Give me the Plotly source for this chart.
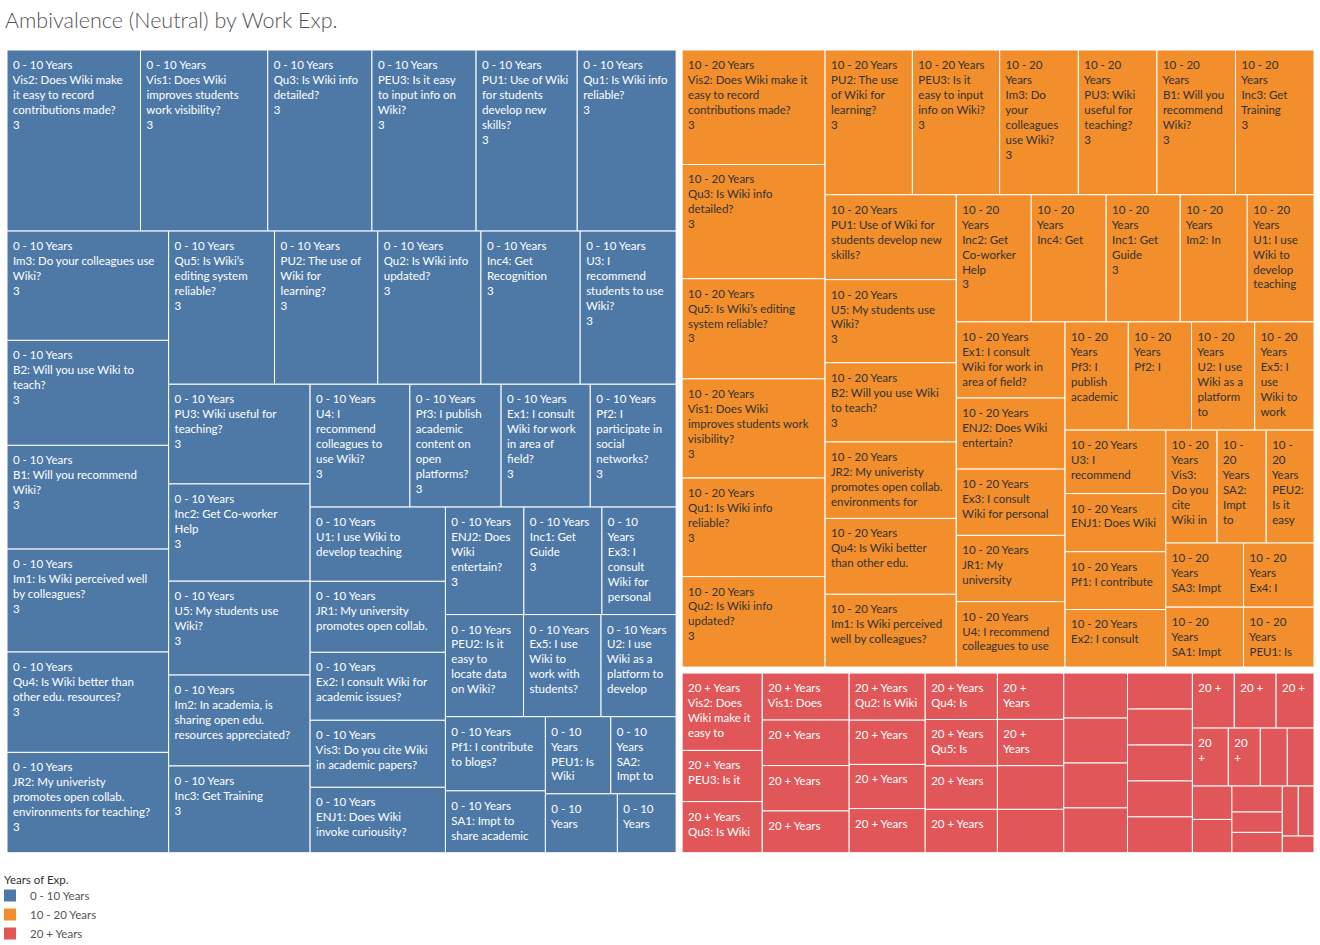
import plotly.graph_objects as go

TITLE = "Ambivalence (Neutral) by Work Exp."
LEGEND_TITLE = "Years of Exp."
groups = ["0 - 10 Years", "10 - 20 Years", "20 + Years"]
group_colors = ["#4E79A7", "#F28E2B", "#E15759"]
label_colors = ["#FFFFFF", "#333333", "#FFFFFF"]
FONT = "Lato"

question_codes = ["Vis1", "Vis2", "Vis3", "Qu1", "Qu2", "Qu3", "Qu4", "Qu5", "PEU1", "PEU2", "PEU3",
                  "PU1", "PU2", "PU3", "Im1", "Im2", "Im3", "B1", "B2", "Inc1", "Inc2", "Inc3", "Inc4",
                  "U1", "U2", "U3", "U4", "U5", "Pf1", "Pf2", "Pf3", "Ex1", "Ex2", "Ex3", "Ex4", "Ex5",
                  "ENJ1", "ENJ2", "JR1", "JR2", "SA1", "SA2", "SA3"]
question_texts = ["Does Wiki improves students work visibility?",
                  "Does Wiki make it easy to record contributions made?",
                  "Do you cite Wiki in academic papers?",
                  "Is Wiki info reliable?", "Is Wiki info updated?", "Is Wiki info detailed?",
                  "Is Wiki better than other edu. resources?", "Is Wiki’s editing system reliable?",
                  "Is Wiki user-friendly?", "Is it easy to locate data on Wiki?",
                  "Is it easy to input info on Wiki?",
                  "Use of Wiki for students develop new skills?", "The use of Wiki for learning?",
                  "Wiki useful for teaching?", "Is Wiki perceived well by colleagues?",
                  "In academia, is sharing open edu. resources appreciated?",
                  "Do your colleagues use Wiki?", "Will you recommend Wiki?", "Will you use Wiki to teach?",
                  "Get Guide", "Get Co-worker Help", "Get Training", "Get Recognition",
                  "I use Wiki to develop teaching activities?",
                  "I use Wiki as a platform to develop activities?",
                  "I recommend students to use Wiki?", "I recommend colleagues to use Wiki?",
                  "My students use Wiki?", "I contribute to blogs?", "I participate in social networks?",
                  "I publish academic content on open platforms?",
                  "I consult Wiki for work in area of field?", "I consult Wiki for academic issues?",
                  "I consult Wiki for personal issues?", "I consult Wiki for other issues?",
                  "I use Wiki to work with students?", "Does Wiki invoke curiousity?",
                  "Does Wiki entertain?", "My university promotes open collab. environments for research?",
                  "My univeristy promotes open collab. environments for teaching?",
                  "Impt to share academic content?", "Impt to publish in open access?",
                  "Impt to share teaching materials?"]

# ---- 0 - 10 Years ----
exp0_codes = ["Vis2", "Vis1", "Qu3", "PEU3", "PU1", "Qu1", "Im3", "B2", "B1", "Im1", "Qu4", "JR2",
              "Qu5", "PU2", "Qu2", "Inc4", "U3", "PU3", "Inc2", "U5", "Im2", "Inc3", "U4", "Pf3",
              "Ex1", "Pf2", "U1", "JR1", "Ex2", "Vis3", "ENJ1", "ENJ2", "Inc1", "Ex3", "PEU2", "Ex5",
              "U2", "Pf1", "SA1", "PEU1", "SA2", "SA3", "Ex4"]
exp0_size = [24130, 22990, 18830, 18820, 18280, 17870, 17630, 16940, 16730, 16610, 16190, 16185,
             16180, 15780, 15770, 15170, 14660, 14070, 13720, 13250, 12830, 12240, 12230, 11180,
             10930, 10520, 10030, 9590, 9180, 9050, 8830, 8420, 8370, 7960, 7955, 7900,
             7650, 7400, 6170, 5035, 5030, 4230, 3450]
exp0_neutral = [3, 3, 3, 3, 3, 3, 3, 3, 3, 3, 3, 3, 3, 3, 3, 3, 3, 3, 3, 3, 3, 3,
                3, 3, 3, 3, 3, 3, 3, 3, 3, 3, 3, 3, 3, 3, 3, 3, 3, 3, 3, 3, 3]
exp0_show_count = [1, 1, 1, 1, 1, 1, 1, 1, 1, 1, 1, 1, 1, 1, 1, 1, 1, 1, 1, 1, 0, 1,
                   1, 1, 1, 1, 0, 0, 0, 0, 0, 1, 1, 0, 0, 0, 0, 0, 0, 0, 0, 0, 0]
exp0_label = [
    "0 - 10 Years|Vis2: Does Wiki make|it easy to record|contributions made?",
    "0 - 10 Years|Vis1: Does Wiki|improves students|work visibility?",
    "0 - 10 Years|Qu3: Is Wiki info|detailed?",
    "0 - 10 Years|PEU3: Is it easy|to input info on|Wiki?",
    "0 - 10 Years|PU1: Use of Wiki|for students|develop new|skills?",
    "0 - 10 Years|Qu1: Is Wiki info|reliable?",
    "0 - 10 Years|Im3: Do your colleagues use|Wiki?",
    "0 - 10 Years|B2: Will you use Wiki to|teach?",
    "0 - 10 Years|B1: Will you recommend|Wiki?",
    "0 - 10 Years|Im1: Is Wiki perceived well|by colleagues?",
    "0 - 10 Years|Qu4: Is Wiki better than|other edu. resources?",
    "0 - 10 Years|JR2: My univeristy|promotes open collab.|environments for teaching?",
    "0 - 10 Years|Qu5: Is Wiki’s|editing system|reliable?",
    "0 - 10 Years|PU2: The use of|Wiki for|learning?",
    "0 - 10 Years|Qu2: Is Wiki info|updated?",
    "0 - 10 Years|Inc4: Get|Recognition",
    "0 - 10 Years|U3: I|recommend|students to use|Wiki?",
    "0 - 10 Years|PU3: Wiki useful for|teaching?",
    "0 - 10 Years|Inc2: Get Co-worker|Help",
    "0 - 10 Years|U5: My students use|Wiki?",
    "0 - 10 Years|Im2: In academia, is|sharing open edu.|resources appreciated?",
    "0 - 10 Years|Inc3: Get Training",
    "0 - 10 Years|U4: I|recommend|colleagues to|use Wiki?",
    "0 - 10 Years|Pf3: I publish|academic|content on|open|platforms?",
    "0 - 10 Years|Ex1: I consult|Wiki for work|in area of|field?",
    "0 - 10 Years|Pf2: I|participate in|social|networks?",
    "0 - 10 Years|U1: I use Wiki to|develop teaching",
    "0 - 10 Years|JR1: My university|promotes open collab.",
    "0 - 10 Years|Ex2: I consult Wiki for|academic issues?",
    "0 - 10 Years|Vis3: Do you cite Wiki|in academic papers?",
    "0 - 10 Years|ENJ1: Does Wiki|invoke curiousity?",
    "0 - 10 Years|ENJ2: Does|Wiki|entertain?",
    "0 - 10 Years|Inc1: Get|Guide",
    "0 - 10|Years|Ex3: I|consult|Wiki for|personal",
    "0 - 10 Years|PEU2: Is it|easy to|locate data|on Wiki?",
    "0 - 10 Years|Ex5: I use|Wiki to|work with|students?",
    "0 - 10 Years|U2: I use|Wiki as a|platform to|develop",
    "0 - 10 Years|Pf1: I contribute|to blogs?",
    "0 - 10 Years|SA1: Impt to|share academic",
    "0 - 10|Years|PEU1: Is|Wiki",
    "0 - 10|Years|SA2:|Impt to",
    "0 - 10|Years",
    "0 - 10|Years",
]

# ---- 10 - 20 Years ----
exp1_codes = ["Vis2", "Qu3", "Qu5", "Vis1", "Qu1", "Qu2", "PU2", "PEU3", "Im3", "PU3", "B1", "Inc3",
              "PU1", "U5", "B2", "JR2", "Qu4", "Im1", "Inc2", "Inc4", "Inc1", "Im2", "U1", "Ex1",
              "ENJ2", "Ex3", "JR1", "U4", "Pf3", "Pf2", "U2", "Ex5", "U3", "ENJ1", "Pf1", "Ex2",
              "Vis3", "SA2", "PEU2", "SA3", "SA1", "Ex4", "PEU1"]
exp1_size = [16380, 16340, 14330, 14190, 14100, 12940, 12650, 12640, 11400, 11390, 11380, 11370,
             11140, 10910, 10400, 10040, 9960, 9550, 9540, 9530, 9420, 8530, 8490, 8280,
             7740, 7215, 7210, 7120, 6850, 6845, 6840, 6420, 6400, 5860, 5830, 5800,
             5790, 5550, 5400, 4990, 4660, 4525, 4221]
exp1_neutral = [3, 3, 3, 3, 3, 3, 3, 3, 3, 3, 3, 3, 3, 3, 3, 3, 3, 3, 3, 3, 3, 3,
                3, 3, 3, 3, 3, 3, 3, 3, 3, 3, 3, 3, 3, 3, 3, 3, 3, 3, 3, 3, 3]
exp1_show_count = [1, 1, 1, 1, 1, 1, 1, 1, 1, 1, 1, 1, 0, 1, 1, 0, 0, 0, 1, 0, 1, 0,
                   0, 0, 0, 0, 0, 0, 0, 0, 0, 0, 0, 0, 0, 0, 0, 0, 0, 0, 0, 0, 0]
exp1_label = [
    "10 - 20 Years|Vis2: Does Wiki make it|easy to record|contributions made?",
    "10 - 20 Years|Qu3: Is Wiki info|detailed?",
    "10 - 20 Years|Qu5: Is Wiki’s editing|system reliable?",
    "10 - 20 Years|Vis1: Does Wiki|improves students work|visibility?",
    "10 - 20 Years|Qu1: Is Wiki info|reliable?",
    "10 - 20 Years|Qu2: Is Wiki info|updated?",
    "10 - 20 Years|PU2: The use|of Wiki for|learning?",
    "10 - 20 Years|PEU3: Is it|easy to input|info on Wiki?",
    "10 - 20|Years|Im3: Do|your|colleagues|use Wiki?",
    "10 - 20|Years|PU3: Wiki|useful for|teaching?",
    "10 - 20|Years|B1: Will you|recommend|Wiki?",
    "10 - 20|Years|Inc3: Get|Training",
    "10 - 20 Years|PU1: Use of Wiki for|students develop new|skills?",
    "10 - 20 Years|U5: My students use|Wiki?",
    "10 - 20 Years|B2: Will you use Wiki|to teach?",
    "10 - 20 Years|JR2: My univeristy|promotes open collab.|environments for",
    "10 - 20 Years|Qu4: Is Wiki better|than other edu.",
    "10 - 20 Years|Im1: Is Wiki perceived|well by colleagues?",
    "10 - 20|Years|Inc2: Get|Co-worker|Help",
    "10 - 20|Years|Inc4: Get",
    "10 - 20|Years|Inc1: Get|Guide",
    "10 - 20|Years|Im2: In",
    "10 - 20|Years|U1: I use|Wiki to|develop|teaching",
    "10 - 20 Years|Ex1: I consult|Wiki for work in|area of field?",
    "10 - 20 Years|ENJ2: Does Wiki|entertain?",
    "10 - 20 Years|Ex3: I consult|Wiki for personal",
    "10 - 20 Years|JR1: My|university",
    "10 - 20 Years|U4: I recommend|colleagues to use",
    "10 - 20|Years|Pf3: I|publish|academic",
    "10 - 20|Years|Pf2: I",
    "10 - 20|Years|U2: I use|Wiki as a|platform|to",
    "10 - 20|Years|Ex5: I|use|Wiki to|work",
    "10 - 20 Years|U3: I|recommend",
    "10 - 20 Years|ENJ1: Does Wiki",
    "10 - 20 Years|Pf1: I contribute",
    "10 - 20 Years|Ex2: I consult",
    "10 - 20|Years|Vis3:|Do you|cite|Wiki in",
    "10 -|20|Years|SA2:|Impt|to",
    "10 -|20|Years|PEU2:|Is it|easy",
    "10 - 20|Years|SA3: Impt",
    "10 - 20|Years|SA1: Impt",
    "10 - 20|Years|Ex4: I",
    "10 - 20|Years|PEU1: Is",
]

# ---- 20 + Years ----
exp2_codes = ["Vis2", "PEU3", "Qu3", "Vis1", "Qu1", "PU2", "Im3", "Qu2", "PU3", "B1", "Inc3", "Qu4",
              "Qu5", "PU1", "U5", "B2", "JR2", "Im1", "Inc2", "Inc4", "Inc1", "Im2", "U1", "Ex1",
              "ENJ2", "Ex3", "JR1", "U4", "Pf3", "Pf2", "U2", "Ex5", "U3", "ENJ1", "Pf1", "Ex2",
              "Vis3", "SA2", "PEU2", "SA3", "SA1", "Ex4", "PEU1"]
exp2_size = [6351, 4203, 4193, 4183, 4050, 4040, 3712, 3671, 3446, 3441, 3436, 3436,
             3431, 3211, 3206, 3150, 3145, 2966, 2945, 2940, 2935, 2930, 2925, 2393,
             2391, 2389, 2387, 2383, 2362, 2357, 2137, 2132, 1898, 1602, 1584, 1350,
             1345, 1340, 1053, 1048, 818, 803, 541]
exp2_neutral = [3, 3, 3, 3, 3, 3, 3, 3, 3, 3, 3, 3, 3, 3, 3, 3, 3, 3, 3, 3, 3, 3,
                3, 3, 3, 3, 3, 3, 3, 3, 3, 3, 3, 3, 3, 3, 3, 3, 3, 3, 3, 3, 3]
exp2_show_count = [0, 0, 0, 0, 0, 0, 0, 0, 0, 0, 0, 0, 0, 0, 0, 0, 0, 0, 0, 0, 0, 0,
                   0, 0, 0, 0, 0, 0, 0, 0, 0, 0, 0, 0, 0, 0, 0, 0, 0, 0, 0, 0, 0]
exp2_label = [
    "20 + Years|Vis2: Does|Wiki make it|easy to",
    "20 + Years|PEU3: Is it",
    "20 + Years|Qu3: Is Wiki",
    "20 + Years|Vis1: Does",
    "20 + Years", "20 + Years", "20 + Years",
    "20 + Years|Qu2: Is Wiki",
    "20 + Years", "20 + Years", "20 + Years",
    "20 + Years|Qu4: Is",
    "20 + Years|Qu5: Is",
    "20 + Years", "20 + Years",
    "20 +|Years", "20 +|Years",
    "", "", "", "", "", "", "", "", "", "", "",
    "20 +", "20 +", "20 +",
    "20|+", "20|+",
    "", "", "", "", "", "", "", "", "", "",
]

group_codes = [exp0_codes, exp1_codes, exp2_codes]
group_sizes = [exp0_size, exp1_size, exp2_size]
group_neutral = [exp0_neutral, exp1_neutral, exp2_neutral]
group_show = [exp0_show_count, exp1_show_count, exp2_show_count]
group_labels = [exp0_label, exp1_label, exp2_label]
q_lookup = dict(zip(question_codes, question_texts))

# a tiny spacer line at the top of each label nudges the text down to match the reference inset
SPACER = "<span style='font-size:1px'>\u00a0</span><br>"

ids, labels, parents, values, texts, colors, tcolors, lwidths, custom = [], [], [], [], [], [], [], [], []
ids.append("root"); labels.append(LEGEND_TITLE); parents.append(""); values.append(0)
texts.append(""); colors.append("#FFFFFF"); tcolors.append("#FFFFFF"); lwidths.append(0)
custom.append(["", "", ""])
for gi, g in enumerate(groups):
    gid = "g%d" % gi
    ids.append(gid); labels.append(g); parents.append("root"); values.append(0)
    texts.append(""); colors.append("#FFFFFF"); tcolors.append("#FFFFFF"); lwidths.append(0)
    custom.append([g, "", ""])
    for code, size, cnt, show, lab in zip(group_codes[gi], group_sizes[gi], group_neutral[gi],
                                          group_show[gi], group_labels[gi]):
        ids.append(gid + "-" + code)
        labels.append(code)
        parents.append(gid)
        values.append(size)
        lines = lab.split("|") if lab else []
        if show:
            lines.append(str(cnt))
        body = "<br>".join("\u00a0" + ln for ln in lines)
        texts.append(SPACER + body if body else "")
        colors.append(group_colors[gi])
        tcolors.append(label_colors[gi])
        lwidths.append(1)
        custom.append([g, code + ": " + q_lookup[code], cnt])

W, H = 1320, 945
fig = go.Figure()
fig.add_trace(go.Treemap(
    ids=ids, labels=labels, parents=parents, values=values,
    branchvalues="remainder", sort=True,
    text=texts, texttemplate="%{text}", textposition="top left",
    textfont=dict(family=FONT, size=11.5, color=tcolors),
    customdata=custom,
    hovertemplate="%{customdata[0]}<br>%{customdata[1]}<br>Neutral: %{customdata[2]}<extra></extra>",
    marker=dict(colors=colors, line=dict(color="#FFFFFF", width=lwidths),
                pad=dict(t=3, l=3, r=3, b=3), depthfade=False),
    tiling=dict(packing="squarify", squarifyratio=1.618034, pad=0),
    pathbar=dict(visible=False),
    domain=dict(x=[1 / W, 1.0], y=[1 - 858.7 / H, 1 - 44 / H]),
))

for g, c in zip(groups, group_colors):
    fig.add_trace(go.Scatter(x=[None], y=[None], mode="markers", name=g,
                             marker=dict(symbol="square", size=11, color=c),
                             hoverinfo="skip", showlegend=True))

fig.update_layout(
    width=W, height=H,
    margin=dict(l=0, r=0, t=0, b=0, autoexpand=False),
    paper_bgcolor="white", plot_bgcolor="white",
    title=dict(text=TITLE, x=5 / W, xanchor="left", y=1 - 20 / H, yanchor="middle",
               font=dict(family=FONT, size=21.5, color="#555555", weight=300)),
    xaxis=dict(visible=False), yaxis=dict(visible=False),
    uniformtext=dict(minsize=11.5, mode="show"),
    legend=dict(x=-10 / W, xanchor="left", y=1 - 881 / H, yanchor="top",
                font=dict(family=FONT, size=11.5, color="#555555"),
                bgcolor="rgba(0,0,0,0)", tracegroupgap=0, itemsizing="constant"),
    annotations=[dict(text=LEGEND_TITLE, x=2 / W, y=1 - 879 / H, xref="paper", yref="paper",
                      xanchor="left", yanchor="middle", showarrow=False,
                      font=dict(family=FONT, size=11.5, color="#333333"))],
    showlegend=True,
)

fig.write_html("out.html", config={"displayModeBar": False},
               post_script="document.body.style.margin='0px';")
